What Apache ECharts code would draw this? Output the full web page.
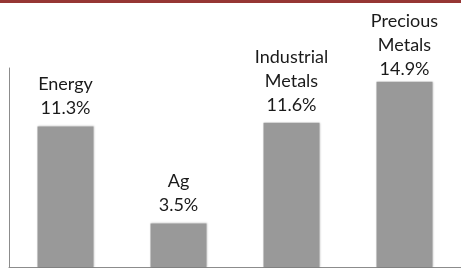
<!DOCTYPE html>
<html>
<head>
<meta charset="utf-8">
<script src="https://cdn.jsdelivr.net/npm/echarts@6/dist/echarts.min.js"></script>
<style>
  html, body { margin: 0; padding: 0; background: #fff; }
  #chart { width: 461px; height: 268px; }
</style>
</head>
<body>
<div id="chart"></div>
<script>
const categories = ['Energy', 'Ag', 'Industrial\nMetals', 'Precious\nMetals']
const returns = [11.3, 3.5, 11.6, 14.9]

const myChart = echarts.init(document.getElementById('chart'))

const option = {
  animation: false,
  grid: {
    top: 68,
    left: 9,
    right: 0,
    bottom: 1,
    containLabel: false
  },
  graphic: [
    {
      // red rule at the top
      type: 'rect',
      left: 0,
      top: 0,
      shape: { width: 461, height: 3 },
      style: { fill: '#963634' }
    }
  ],
  xAxis: {
    type: 'category',
    data: categories,
    axisLine: { lineStyle: { color: '#8c8c8c', width: 1 } },
    axisTick: { show: false },
    axisLabel: { show: false }
  },
  yAxis: {
    type: 'value',
    min: 0,
    max: 16,
    axisLine: { show: true, lineStyle: { color: '#8c8c8c', width: 1 } },
    axisTick: { show: false },
    axisLabel: { show: false },
    splitLine: { show: false }
  },
  series: [
    {
      type: 'bar',
      // last label sits closer to its bar, like the original
      data: returns.map(function (v, i) {
        return i === 3 ? { value: v, label: { distance: 0 } } : v
      }),
      barWidth: 56,
      itemStyle: {
        color: '#999999',
        shadowColor: 'rgba(0,0,0,0.25)',
        shadowBlur: 2
      },
      label: {
        show: true,
        position: 'top',
        distance: 6,
        fontFamily: 'Lato',
        fontSize: 18,
        lineHeight: 24,
        color: '#1a1a1a',
        formatter: function (p) {
          return categories[p.dataIndex] + '\n' + p.value.toFixed(1) + '%'
        }
      }
    }
  ]
}

myChart.setOption(option)
</script>
</body>
</html>
